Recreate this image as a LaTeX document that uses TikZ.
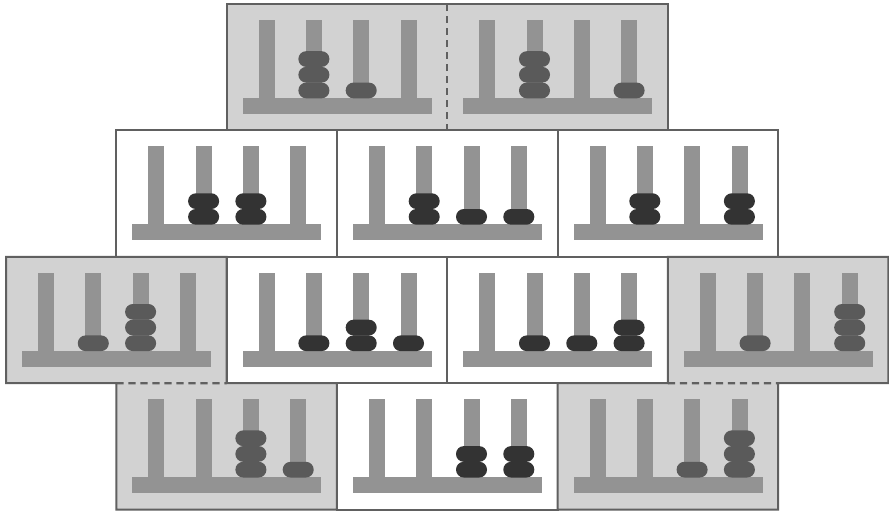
\documentclass[tikz,border=0pt]{standalone}
\definecolor{panelgray}{HTML}{D2D2D2}
\definecolor{edgec}{HTML}{606060}
\definecolor{rodc}{HTML}{939393}
\definecolor{beadg}{HTML}{5A5A5A}
\definecolor{beadw}{HTML}{333333}
\tikzset{
  panel/.style={anchor=north west, minimum width=165.45pt, minimum height=94.8pt, inner sep=0pt, outer sep=0pt},
  graypanel/.style={panel, fill=panelgray},
  whitepanel/.style={panel, fill=white, draw=edgec, line width=1.5pt},
  outline/.style={draw=edgec, line width=1.5pt},
  dashline/.style={draw=edgec, line width=1.6pt, dash pattern=on 5.5pt off 3.5pt},
  rodfill/.style={fill=rodc},
  bead/.style={rounded corners=5.8pt}
}
\newcommand\abacus[4]{%
  \begin{scope}[shift={(#1,#2)}]
    \fill[rodfill] (16,94) rectangle (205,110);
    \foreach \cx in {40,87.3,134.6,182} {\fill[rodfill] (\cx-8,16) rectangle (\cx+8,94.5);}
    \foreach \r/\n in {#4} {
      \pgfmathsetmacro\rx{40+47.3*(\r-1)}
      \foreach \k in {1,...,\n} {
        \fill[#3, bead] ({\rx-15.5},{94.3-15.7*\k}) rectangle ({\rx+15.5},{94.3-15.7*(\k-1)});
      }
    }
  \end{scope}}
\begin{document}
\begin{tikzpicture}[x=0.75pt,y=-0.75pt]
\useasboundingbox (0,0) rectangle (889,512);
% row 1
\node[graypanel] (p11) at (226.6,4) {};
\node[graypanel] (p12) at (447.2,4) {};
% row 2
\node[whitepanel] (p21) at (116.3,130.4) {};
\node[whitepanel] (p22) at (336.9,130.4) {};
\node[whitepanel] (p23) at (557.5,130.4) {};
% row 3
\node[graypanel] (p31) at (6,256.8) {};
\node[whitepanel] (p32) at (226.6,256.8) {};
\node[whitepanel] (p33) at (447.2,256.8) {};
\node[graypanel] (p34) at (667.8,256.8) {};
% row 4
\node[graypanel] (p41) at (116.3,383.2) {};
\node[whitepanel] (p42) at (336.9,383.2) {};
\node[graypanel] (p43) at (557.5,383.2) {};
% abaci
\abacus{226.6}{4}{beadg}{2/3,3/1}
\abacus{447.2}{4}{beadg}{2/3,4/1}
\abacus{116.3}{130.4}{beadw}{2/2,3/2}
\abacus{336.9}{130.4}{beadw}{2/2,3/1,4/1}
\abacus{557.5}{130.4}{beadw}{2/2,4/2}
\abacus{6}{256.8}{beadg}{2/1,3/3}
\abacus{226.6}{256.8}{beadw}{2/1,3/2,4/1}
\abacus{447.2}{256.8}{beadw}{2/1,3/1,4/2}
\abacus{667.8}{256.8}{beadg}{2/1,4/3}
\abacus{116.3}{383.2}{beadg}{3/3,4/1}
\abacus{336.9}{383.2}{beadw}{3/2,4/2}
\abacus{557.5}{383.2}{beadg}{3/1,4/3}
% gray group outlines
\draw[outline] (p11.north west) rectangle (p12.south east);
\draw[dashline] (p11.north east) -- (p11.south east);
\draw[outline] (p31.north west) -- (p31.north east) -- (p31.south east) -- (p41.north east)
  -- (p41.south east) -- (p41.south west) -- (p41.north west) -- (p31.south west) -- cycle;
\draw[dashline] (p41.north west) -- (p31.south east);
\draw[outline] (p34.north west) -- (p34.north east) -- (p34.south east) -- (p43.north east)
  -- (p43.south east) -- (p43.south west) -- (p43.north west) -- (p34.south west) -- cycle;
\draw[dashline] (p34.south west) -- (p43.north east);
\end{tikzpicture}
\end{document}
